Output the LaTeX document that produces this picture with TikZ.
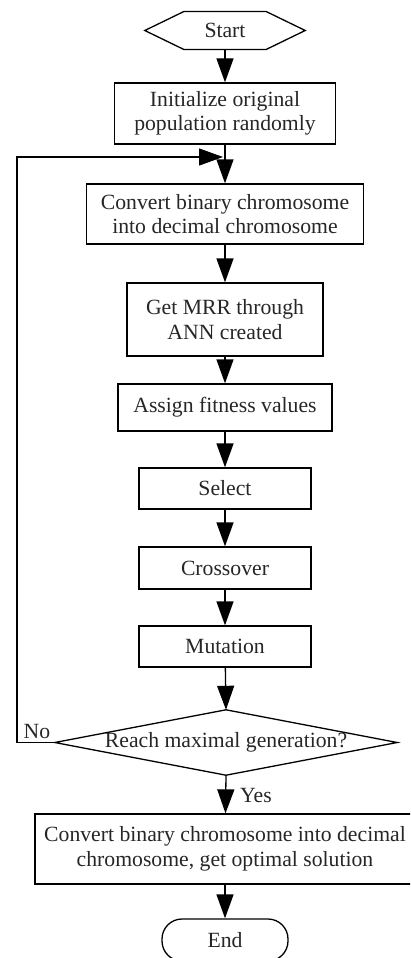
\documentclass[tikz,border=0pt]{standalone}
\usepackage{fontspec}
\setmainfont{Liberation Serif}
\usetikzlibrary{arrows.meta}
\begin{document}
\begin{tikzpicture}[x=1pt,y=-1pt,
  every node/.style={font=\fontsize{21.7}{24.5}\selectfont, text=black!85},
  proc/.style={draw, line width=1.3pt, align=center, inner sep=0pt},
  plain/.style={draw=none, align=center, inner sep=0pt},
  arr/.style={line width=1.3pt, -{Triangle[length=24pt,width=17pt]}},
  ln/.style={line width=1.3pt}]
\useasboundingbox (0,0) rectangle (410,958);
\clip (0,0) rectangle (410,958);
% Start hexagon
\node[plain, minimum width=160pt, minimum height=37.5pt] (start) at (225,30.5) {Start};
\draw[ln] (start.west) -- ([xshift=39pt]start.north west) -- ([xshift=-39pt]start.north east)
  -- (start.east) -- ([xshift=-39pt]start.south east) -- ([xshift=39pt]start.south west) -- cycle;
\node[proc, minimum width=221pt, minimum height=61pt] (init) at (225,113.5) {Initialize original\\population randomly};
\node[proc, minimum width=277pt, minimum height=60pt] (conv) at (225,214) {Convert binary chromosome\\into decimal chromosome};
\node[proc, minimum width=196pt, minimum height=73pt] (mrr) at (225,319.5) {Get MRR through\\ANN created};
\node[proc, minimum width=214pt, minimum height=47pt] (assign) at (225,407.5) {Assign fitness values};
\node[proc, minimum width=172pt, minimum height=41pt] (sel) at (225,488.5) {Select};
\node[proc, minimum width=172pt, minimum height=42pt] (cross) at (225,568) {Crossover};
\node[proc, minimum width=172pt, minimum height=41pt] (mut) at (225,646.5) {Mutation};
% diamond
\node[plain, minimum width=342pt, minimum height=65pt] (dia) at (226,742.5) {Reach maximal generation?};
\draw[ln] (dia.west) -- (dia.north) -- (dia.east) -- (dia.south) -- cycle;
\node[proc, minimum width=380pt, minimum height=70pt] (final) at (225,849) {Convert binary chromosome into decimal\\chromosome, get optimal solution};
\node[proc, rounded corners=20pt, minimum width=126pt, minimum height=42pt] (stop) at (225,940) {End};
% connectors
\draw[arr] (start) -- (init);
\draw[arr] (init) -- (conv);
\draw[arr] (conv) -- (mrr);
\draw[arr] (mrr) -- (assign);
\draw[arr] (assign) -- (sel);
\draw[arr] (sel) -- (cross);
\draw[arr] (cross) -- (mut);
\draw[arr] (mut) -- (dia.north);
\draw[arr] (dia.south) -- (final);
\draw[arr] (final) -- (stop);
% loop
\coordinate (lc) at (17,157);
\coordinate (loopin) at (223,157);
\draw[arr] (dia.west) -- (dia.west -| lc) -- (lc) -- (loopin);
\node[plain] (no) at (37,731) {No};
\node[plain] (yes) at (256,795) {Yes};
\end{tikzpicture}
\end{document}
